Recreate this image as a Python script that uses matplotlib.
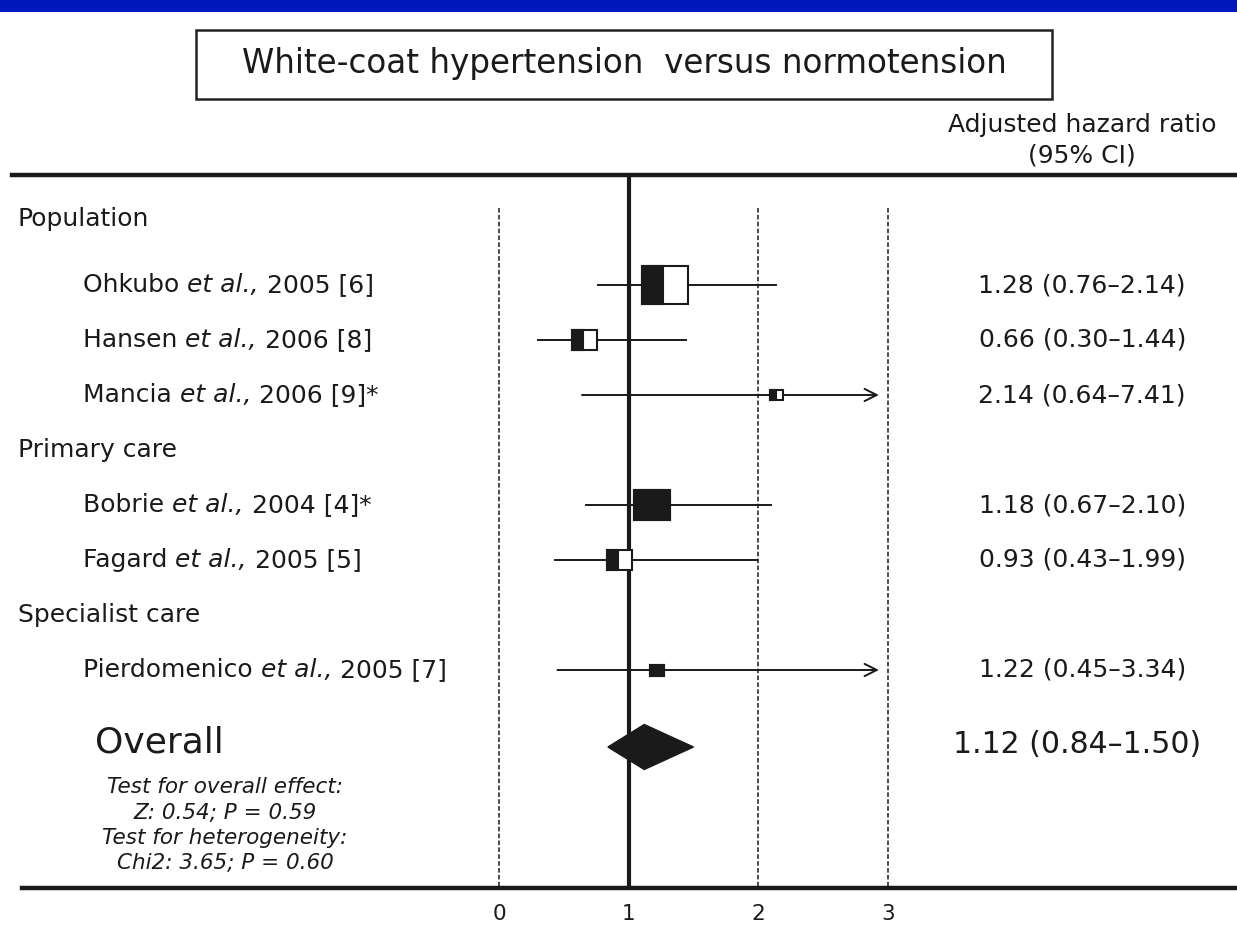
import matplotlib.pyplot as plt
from matplotlib.patches import Rectangle, Polygon
from matplotlib.transforms import blended_transform_factory

plt.rcParams["font.family"] = ["DejaVu Sans"]

# ---------------------------------------------------------------------------
# Data
# ---------------------------------------------------------------------------
TITLE = "White-coat hypertension  versus normotension"
COL_HEADER = ["Adjusted hazard ratio", "(95% CI)"]

groups = ["Population", "Primary care", "Specialist care"]
study_names = ["Ohkubo", "Hansen", "Mancia", "Bobrie", "Fagard", "Pierdomenico"]
study_refs = ["2005 [6]", "2006 [8]", "2006 [9]*", "2004 [4]*", "2005 [5]", "2005 [7]"]
study_group = [0, 0, 0, 1, 1, 2]
hr = [1.28, 0.66, 2.14, 1.18, 0.93, 1.22]
ci_lo = [0.76, 0.30, 0.64, 0.67, 0.43, 0.45]
ci_hi = [2.14, 1.44, 7.41, 2.10, 1.99, 3.34]
weight_size = [38, 20, 10, 30, 20, 11]          # box height ~ study weight
black_frac = [0.46, 0.42, 0.50, 1.0, 0.44, 1.0]  # filled (black) part of box

overall_hr, overall_lo, overall_hi = 1.12, 0.84, 1.50
test_lines = ["Test for overall effect:", "Z: 0.54; P = 0.59",
              "Test for heterogeneity:", "Chi2: 3.65; P = 0.60"]
x_ticks = [0, 1, 2, 3]
x_cap = 2.93   # CIs beyond this are drawn as arrows

# ---------------------------------------------------------------------------
# Layout (pixel geometry of the 1237x925 canvas)
# ---------------------------------------------------------------------------
W, H = 1237, 925
X0_PX, X_UNIT = 499, 129.67   # x=0 position and pixels per HR unit
Y0_PX, ROW_PX = 219, 55       # first row position and row spacing
INK = "#1a1a1a"
LABEL_FS = 18


def row_of(px):
    return (px - Y0_PX) / ROW_PX


def fx(px):
    return px / W


def fy(px):
    return 1 - px / H


# row positions: header, then its studies
y = 0.0
head_y, study_y = [], []
prev = None
for g in study_group:
    if g != prev:
        head_y.append(y)
        y += 1.2 if prev is None else 1.0
        prev = g
    study_y.append(y)
    y += 1.0
overall_y = y + 0.4

fig = plt.figure(figsize=(W / 100, H / 100), dpi=100)
ax = fig.add_axes([0, 0, 1, 1])
ax.set_xlim(-X0_PX / X_UNIT, (W - X0_PX) / X_UNIT)
ax.set_ylim(row_of(H), row_of(0))
ax.axis("off")
trans = blended_transform_factory(ax.transAxes, ax.transData)

# blue banner at the top
fig.patches.append(Rectangle((0, fy(12)), 1, 12 / H, transform=fig.transFigure,
                             facecolor="#0019bc", edgecolor="none"))

# title box
fig.patches.append(Rectangle((fx(196), fy(99)), fx(1052) - fx(196), (99 - 30) / H,
                             transform=fig.transFigure, fill=False,
                             edgecolor="#222222", linewidth=1.8))
fig.text(fx(624), fy(64), TITLE, ha="center", va="center", fontsize=23.5, color=INK)

fig.text(fx(1082), fy(125), COL_HEADER[0], ha="center", va="center", fontsize=18, color=INK)
fig.text(fx(1082), fy(156), COL_HEADER[1], ha="center", va="center", fontsize=18, color=INK)

# horizontal rules
ax.axhline(row_of(175), xmin=fx(12), xmax=1, color=INK, lw=3.2)
ax.axhline(row_of(888), xmin=fx(22), xmax=1, color=INK, lw=3.2)

# reference lines
ax.vlines(1, row_of(175), row_of(888), color=INK, lw=3.0, zorder=2)
ax.vlines([t for t in x_ticks if t != 1], row_of(208), row_of(888), color=INK,
          lw=1.1, linestyles=(0, (3, 1.5)), zorder=1)

for t in x_ticks:
    ax.text(t, row_of(914), str(t), ha="center", va="center", fontsize=15.5, color=INK)

# group headers
for name, yy in zip(groups, head_y):
    ax.text(fx(18), yy, name, transform=trans, ha="left", va="center",
            fontsize=LABEL_FS, color=INK)

# studies
for i, yy in enumerate(study_y):
    t1 = ax.text(fx(83), yy, study_names[i] + " ", transform=trans, ha="left",
                 va="center", fontsize=LABEL_FS, color=INK)
    t2 = ax.annotate("et al.,", xy=(1, 0), xycoords=t1, ha="left", va="bottom",
                     fontsize=LABEL_FS, fontstyle="italic", color=INK)
    ax.annotate(" " + study_refs[i], xy=(1, 0), xycoords=t2, ha="left", va="bottom",
                fontsize=LABEL_FS, color=INK)
    ax.text(fx(1186), yy, f"{hr[i]:.2f} ({ci_lo[i]:.2f}\u2013{ci_hi[i]:.2f})",
            transform=trans, ha="right", va="center", fontsize=18, color=INK)

    hi = min(ci_hi[i], x_cap)
    if ci_hi[i] > x_cap:
        ax.annotate("", xy=(hi, yy), xytext=(ci_lo[i], yy),
                    arrowprops=dict(arrowstyle="->", lw=1.4, color=INK,
                                    mutation_scale=22, shrinkA=0, shrinkB=0))
    else:
        ax.plot([ci_lo[i], hi], [yy, yy], color=INK, lw=1.4, zorder=3)

    bh = weight_size[i] / ROW_PX
    bw = weight_size[i] * 1.22 / X_UNIT
    left = hr[i] - bw / 2
    ax.add_patch(Rectangle((left, yy - bh / 2), bw, bh, facecolor="white",
                           edgecolor=INK, lw=1.5, zorder=4))
    ax.add_patch(Rectangle((left, yy - bh / 2), bw * black_frac[i], bh,
                           facecolor=INK, edgecolor=INK, lw=1.5, zorder=5))

# overall
dh = 22.5 / ROW_PX
ax.add_patch(Polygon([(overall_lo, overall_y), (overall_hr, overall_y - dh),
                      (overall_hi, overall_y), (overall_hr, overall_y + dh)],
                     closed=True, facecolor=INK, edgecolor=INK, zorder=5))
ax.text(fx(95), overall_y - 0.08, "Overall", transform=trans, ha="left", va="center",
        fontsize=26, color=INK)
ax.text(fx(1201), overall_y - 0.05,
        f"{overall_hr:.2f} ({overall_lo:.2f}\u2013{overall_hi:.2f})",
        transform=trans, ha="right", va="center", fontsize=21.5, color=INK)

for k, line in enumerate(test_lines):
    ax.text(fx(225), row_of(787 + 25.5 * k), line, transform=trans, ha="center",
            va="center", fontsize=15.5, fontstyle="italic", color=INK)

fig.savefig("out.png", dpi=100)
